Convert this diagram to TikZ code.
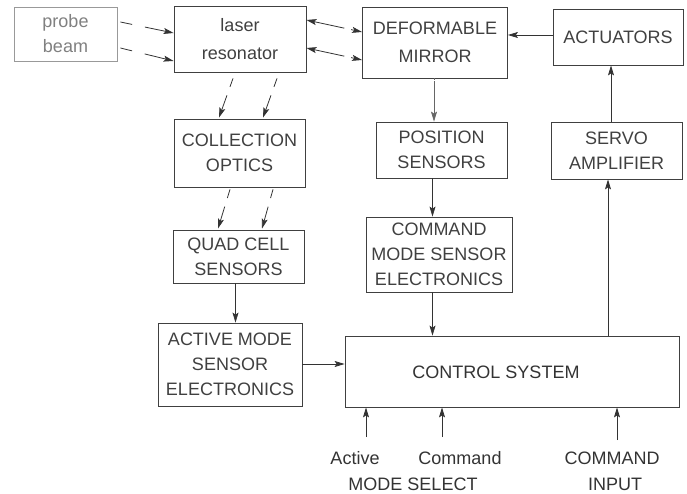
\documentclass[tikz,border=0pt]{standalone}
\usepackage{fontspec}
\setmainfont{Liberation Sans}
\usetikzlibrary{arrows.meta,calc}

\newcommand\lbl{\fontsize{18}{25}\selectfont}
\newcommand\lblwide{\fontsize{18}{28}\selectfont}

\begin{document}
\begin{tikzpicture}[
  x=1pt, y=-1pt,
  tip/.tip={Stealth[length=10pt,width=6pt,inset=2pt]},
  box/.style 2 args={draw=black!75, line width=0.8pt, inner sep=0pt,
    minimum width=#1pt, minimum height=#2pt, align=center,
    font=\lbl, text=black!75},
  faint/.style={draw=black!40, text=black!50},
  tag/.style={inner sep=0pt, font=\lbl, text=black!80},
  arr/.style={draw=black!80, line width=0.8pt, -tip},
  biarr/.style={draw=black!80, line width=0.8pt, tip-tip},
  beam/.style={dash pattern=on 12pt off 13pt on 60pt},
  beamshort/.style={dash pattern=on 9pt off 9pt on 60pt},
  beamdouble/.style={dash pattern=on 31pt off 7pt on 40pt},
  thinline/.style={draw=black!60, line width=0.6pt, dash pattern=on 2pt off 1pt on 60pt}
]
\useasboundingbox (0,0) rectangle (687,494);

% blocks
\node[box={103}{54}, faint] (probe) at (65.5,34) {probe\\beam};
\node[box={132}{66}, font=\lblwide] (laser) at (240,39) {laser\\resonator};
\node[box={145}{71}, font=\lblwide] (dm) at (435,42.5) {DEFORMABLE\\MIRROR};
\node[box={130}{56}] (act) at (618,37) {ACTUATORS};
\node[box={131}{68}] (coll) at (239.5,153) {COLLECTION\\OPTICS};
\node[box={131}{53}] (quad) at (238.5,256.5) {QUAD CELL\\SENSORS};
\node[box={131}{56}] (pos) at (441.5,150) {POSITION\\SENSORS};
\node[box={131}{57}] (servo) at (616.5,150.5) {SERVO\\AMPLIFIER};
\node[box={146}{75}] (cmd) at (439,254.5) {COMMAND\\MODE SENSOR\\ELECTRONICS};
\node[box={144}{83}] (actm) at (230,364.5) {ACTIVE MODE\\SENSOR\\ELECTRONICS};
\node[box={334}{71}] (ctrl) at (512,371.5) {};
\node[tag] (ctrltxt) at ($(ctrl.center)+(-16,1)$) {CONTROL SYSTEM};

% probe beam into the resonator
\draw[arr, beam] ($(probe.east)+(3,-12)$) -- ($(laser.west)+(0,-6)$);
\draw[arr, beam] ($(probe.east)+(3,14)$) -- ($(laser.west)+(0,22)$);

% resonator <-> deformable mirror
\draw[biarr, beamdouble] ($(laser.east)+(0,-19)$) -- ($(dm.west)+(0,-10.5)$);
\draw[biarr, beamdouble] ($(laser.east)+(0,9)$) -- ($(dm.west)+(0,17.5)$);

% resonator -> collection optics -> quad cell
\draw[arr, beamshort] ($(laser.south)+(-7,6)$) -- ($(coll.north)+(-20.5,-1)$);
\draw[arr, beamshort] ($(laser.south)+(37,6)$) -- ($(coll.north)+(23.5,-1)$);
\draw[arr, beamshort] ($(coll.south)+(-9.5,2)$) -- ($(quad.north)+(-20.5,-1)$);
\draw[arr, beamshort] ($(coll.south)+(33.5,2)$) -- ($(quad.north)+(23.5,-1)$);

% signal chain
\draw[arr] ($(quad.south)+(-3,0)$) -- ($(actm.north)+(5.5,0)$);
\draw[arr, thinline] ($(dm.south)+(-1,0)$) -- ($(pos.north)+(-7.5,0)$);
\draw[arr] ($(pos.south)+(-9,0)$) -- ($(cmd.north)+(-6.5,0)$);
\draw[arr] ($(cmd.south)+(-6.5,0)$) -- ($(ctrl.north)+(-79.5,0)$);
\draw[arr] ($(actm.east)+(0,-0.5)$) -- ($(ctrl.west)+(0,-7.5)$);
\draw[arr] ($(ctrl.north)+(96,0)$) -- ($(servo.south)+(-8.5,0)$);
\draw[arr] ($(servo.north)+(-5.5,0)$) -- ($(act.south)+(-7,0)$);
\draw[arr] ($(act.west)+(0,-2)$) -- ($(dm.east)+(0,-7.5)$);

% external inputs
\coordinate (inA) at (366,437);
\coordinate (inC) at (442,437);
\coordinate (inI) at (617,440);
\draw[arr] (inA) -- (inA |- ctrl.south);
\draw[arr] (inC) -- (inC |- ctrl.south);
\draw[arr] (inI) -- (inI |- ctrl.south);

\node[tag] (lA) at (355,458) {Active};
\node[tag] (lC) at (460,458) {Command};
\node[tag] (lM) at (413,484) {MODE SELECT};
\node[tag] (lCI) at (612,458) {COMMAND};
\node[tag] (lI) at (615,484) {INPUT};
\end{tikzpicture}
\end{document}
